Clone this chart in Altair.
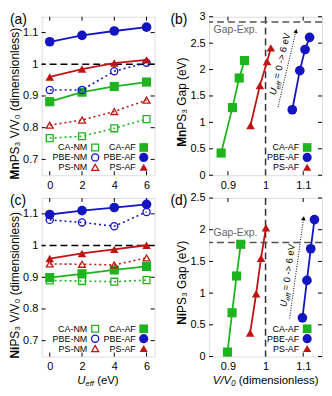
import math
import altair as alt
import pandas as pd

# ---------------- data ----------------
U = [0, 2, 4, 6]

# (a) MnPS3 V/V0
mn_ca_nm = [0.767, 0.773, 0.798, 0.827]
mn_ca_af = [0.882, 0.912, 0.930, 0.944]
mn_pbe_nm = [0.919, 0.919, 0.978, 1.005]
mn_pbe_af = [1.071, 1.091, 1.105, 1.117]
mn_ps_nm = [0.808, 0.824, 0.851, 0.887]
mn_ps_af = [0.960, 0.985, 1.004, 1.014]
# (b) MnPS3 gap (eV), AF
mn_ca_gap = [0.42, 1.28, 1.84, 2.17]
mn_pbe_gap = [1.24, 1.98, 2.38, 2.61]
mn_ps_gap = [0.94, 1.70, 2.15, 2.41]
mn_gap_exp = 2.9

# (c) NiPS3 V/V0
ni_ca_nm = [0.890, 0.888, 0.886, 0.891]
ni_ca_af = [0.899, 0.911, 0.923, 0.934]
ni_pbe_nm = [1.081, 1.073, 1.061, 1.106]
ni_pbe_af = [1.098, 1.110, 1.120, 1.130]
ni_ps_nm = [0.942, 0.941, 0.939, 0.961]
ni_ps_af = [0.959, 0.975, 0.988, 1.001]
# (d) NiPS3 gap (eV), AF
ni_ca_gap = [0.07, 0.69, 1.27, 1.77]
ni_pbe_gap = [0.61, 1.20, 1.70, 2.16]
ni_ps_gap = [0.37, 0.99, 1.55, 2.03]
ni_gap_exp = 1.8

methods = ["CA", "PBE", "PS"]
u_ticks = [0, 2, 4, 6]
v_ticks = [0.7, 0.8, 0.9, 1.0, 1.1]
vx_ticks = [0.9, 1.0, 1.1]
mn_gap_ticks = [0, 0.5, 1, 1.5, 2, 2.5, 3]
ni_gap_ticks = [0, 0.5, 1, 1.5, 2, 2.5]

# ---------------- style ----------------
W, H = 114, 160
FONT = "Liberation Sans"
COL = {"CA": "#1db41d", "PBE": "#1414c0", "PS": "#bf1414"}
SHAPE = {"CA": "square", "PBE": "circle", "PS": "triangle-up"}
SIZE_F = {"CA": 85, "PBE": 95, "PS": 75}
SIZE_O = {"CA": 48, "PBE": 52, "PS": 48}


def one():
    return pd.DataFrame({"k": [0]})


def _axis(ticks):
    return alt.Axis(values=ticks, format="~g", title=None, ticks=False,
                    domain=False, grid=False, labelFont=FONT,
                    labelFontSize=11, labelPadding=4, labelColor="black",
                    labelFlush=False)


def xenc(field, scale, ticks):
    return alt.X(field, type="quantitative", scale=scale, axis=_axis(ticks))


def yenc(field, scale, ticks):
    return alt.Y(field, type="quantitative", scale=scale, axis=_axis(ticks))


def inner_ticks(xs, ys, xt, yt):
    tx = pd.DataFrame({"x": xt})
    ty = pd.DataFrame({"y": yt})
    L = 4
    layers = []
    for a, b in [(H - L, H), (0, L)]:
        layers.append(alt.Chart(tx).mark_rule(color="black", strokeWidth=1).encode(
            x=xenc("x", xs, xt), y=alt.value(a), y2=alt.value(b)))
    for a, b in [(0, L), (W - L, W)]:
        layers.append(alt.Chart(ty).mark_rule(color="black", strokeWidth=1).encode(
            y=yenc("y", ys, yt), x=alt.value(a), x2=alt.value(b)))
    return layers


def text_px(txt, x, y, size=11, **kw):
    return alt.Chart(one()).mark_text(text=txt, font=FONT, fontSize=size, **kw).encode(
        x=alt.value(x), y=alt.value(y))


def legend(entries):
    layers = []
    rows = [H - 28, H - 18, H - 8]
    for label, m, filled, row, lx in entries:
        y = rows[row]
        layers.append(text_px(label, lx, y, size=9, align="right", baseline="middle",
                              color="black"))
        if filled:
            pm = alt.Chart(one()).mark_point(shape=SHAPE[m], filled=True, size=SIZE_F[m] * 0.9,
                                             color=COL[m], opacity=1)
        else:
            pm = alt.Chart(one()).mark_point(shape=SHAPE[m], filled=False, size=SIZE_O[m],
                                             color=COL[m], strokeWidth=1.3, opacity=1)
        layers.append(pm.encode(x=alt.value(lx + 8), y=alt.value(y)))
    return layers


def series_layers(xvals, yvals, m, filled, xs, ys, xt, yt):
    df = pd.DataFrame({"x": xvals, "y": yvals, "o": list(range(len(xvals)))})
    base = alt.Chart(df)
    if filled:
        line = base.mark_line(color=COL[m], strokeWidth=1.8)
        pts = base.mark_point(shape=SHAPE[m], filled=True, size=SIZE_F[m], color=COL[m], opacity=1)
    else:
        line = base.mark_line(color=COL[m], strokeWidth=1.6, strokeDash=[2, 3])
        pts = base.mark_point(shape=SHAPE[m], filled=False, size=SIZE_O[m], color=COL[m],
                              strokeWidth=1.3, opacity=1)
    enc = dict(x=xenc("x", xs, xt), y=yenc("y", ys, yt), order=alt.Order("o:Q"))
    return [line.encode(**enc), pts.encode(x=xenc("x", xs, xt), y=yenc("y", ys, yt))]


def ytitle(bold, rest, anchor_off):
    y = H / 2 + anchor_off
    return [
        text_px(bold, -27, y, size=12, angle=270, align="right", baseline="middle",
                fontWeight="bold", color="black"),
        text_px(rest, -27, y, size=12, angle=270, align="left", baseline="middle",
                color="black"),
    ]


def volume_panel(tag, elem, data, xt):
    xs = alt.Scale(domain=[-0.5, 6.5], nice=False, zero=False)
    ys = alt.Scale(domain=[0.65, 1.15], nice=False, zero=False)
    layers = []
    layers += inner_ticks(xs, ys, u_ticks, v_ticks)
    layers.append(alt.Chart(pd.DataFrame({"y": [1.0]})).mark_rule(
        color="black", strokeWidth=1.5, strokeDash=[7, 4]).encode(y=yenc("y", ys, v_ticks)))
    for m in methods:
        nm, af = data[m]
        layers += series_layers(U, nm, m, False, xs, ys, u_ticks, v_ticks)
        layers += series_layers(U, af, m, True, xs, ys, u_ticks, v_ticks)
    ent = []
    for i, m in enumerate(methods):
        ent.append((m + "-NM", m, False, i, 46))
        ent.append((m + "-AF", m, True, i, 95))
    layers += legend(ent)
    layers.append(text_px(tag, -32, -4, size=14, align="left", baseline="top", color="black"))
    off = (59 if elem == "Mn" else 62) + 8
    layers += ytitle(elem, "PS\u2083 V/V\u2080 (dimensionless)", off)
    if xt:
        xc = W / 2 - 21
        layers.append(text_px("U", xc, H + 25, size=11.5, align="left", baseline="middle",
                              fontStyle="italic", color="black"))
        layers.append(text_px("eff", xc + 8.3, H + 28, size=7.5, align="left", baseline="middle",
                              fontStyle="italic", color="black"))
        layers.append(text_px("(eV)", xc + 20, H + 25, size=11.5, align="left",
                              baseline="middle", color="black"))
    return alt.layer(*layers).properties(width=W, height=H)


def gap_panel(tag, elem, vols, gaps, ydom, yt, gexp, gtext_y, arrow, atext, xt):
    xs = alt.Scale(domain=[0.85, 1.15], nice=False, zero=False)
    ys = alt.Scale(domain=ydom, nice=False, zero=False)
    layers = []
    layers += inner_ticks(xs, ys, vx_ticks, yt)
    layers.append(alt.Chart(pd.DataFrame({"x": [1.0]})).mark_rule(
        color="#333333", strokeWidth=1.5, strokeDash=[7, 4]).encode(x=xenc("x", xs, vx_ticks)))
    layers.append(alt.Chart(pd.DataFrame({"y": [gexp]})).mark_rule(
        color="#555555", strokeWidth=1.5, strokeDash=[7, 4]).encode(y=yenc("y", ys, yt)))
    layers.append(alt.Chart(pd.DataFrame({"x": [0.862], "y": [gtext_y]})).mark_text(
        text="Gap-Exp.", font=FONT, fontSize=10.5, color="#666666", align="left",
        baseline="middle").encode(x=xenc("x", xs, vx_ticks), y=yenc("y", ys, yt)))
    for m in ["CA", "PS", "PBE"]:
        layers += series_layers(vols[m], gaps[m], m, True, xs, ys, vx_ticks, yt)
    # arrow U_eff = 0 -> 6 eV
    (x1, y1), (x2, y2) = arrow
    adf = pd.DataFrame({"x": [x1], "y": [y1], "x2": [x2], "y2": [y2]})
    layers.append(alt.Chart(adf).mark_rule(color="black", strokeWidth=1,
                                           strokeDash=[1, 1.5]).encode(
        x=xenc("x", xs, vx_ticks), y=yenc("y", ys, yt), x2="x2:Q", y2="y2:Q"))
    dxp = (x2 - x1) / 0.3 * W
    dyp = (y2 - y1) / (ydom[1] - ydom[0]) * H
    ang = math.degrees(math.atan2(dxp, dyp))
    layers.append(alt.Chart(pd.DataFrame({"x": [x2], "y": [y2]})).mark_point(
        shape="triangle-up", filled=True, size=22, color="black", opacity=1,
        angle=ang).encode(x=xenc("x", xs, vx_ticks), y=yenc("y", ys, yt)))
    tdf = pd.DataFrame({"x": [atext[0]], "y": [atext[1]]})
    tang = 270 + ang
    for s, dx, dy, fs, sty in [("U", -32, -3, 9.5, "italic"), ("eff", -25.2, -1, 7, "italic"),
                               ("= 0 -> 6 eV", -15, -3, 9.5, "normal")]:
        layers.append(alt.Chart(tdf).mark_text(
            text=s, font=FONT, fontSize=fs, fontStyle=sty, angle=tang, align="left",
            baseline="bottom", dx=dx, dy=dy, color="black").encode(
            x=xenc("x", xs, vx_ticks), y=yenc("y", ys, yt)))
    ent = [("CA-AF", "CA", True, 0, W - 23), ("PBE-AF", "PBE", True, 1, W - 23),
           ("PS-AF", "PS", True, 2, W - 23)]
    layers += legend(ent)
    layers.append(text_px(tag, -39, -4, size=14, align="left", baseline="top", color="black"))
    off = (28 if elem == "Mn" else 30) + 6
    layers += ytitle(elem, "PS\u2083 Gap (eV)", off)
    if xt:
        xc = W / 2 - 30
        layers.append(text_px("V/V\u2080", xc, H + 25, size=11.5, align="right",
                              baseline="middle", fontStyle="italic", color="black"))
        layers.append(text_px("(dimensionless)", xc + 3, H + 25, size=11.5, align="left",
                              baseline="middle", color="black"))
    return alt.layer(*layers).properties(width=W, height=H)


pa = volume_panel("(a)", "Mn", {"CA": (mn_ca_nm, mn_ca_af), "PBE": (mn_pbe_nm, mn_pbe_af),
                                "PS": (mn_ps_nm, mn_ps_af)}, False)
pc = volume_panel("(c)", "Ni", {"CA": (ni_ca_nm, ni_ca_af), "PBE": (ni_pbe_nm, ni_pbe_af),
                                "PS": (ni_ps_nm, ni_ps_af)}, True)
pb = gap_panel("(b)", "Mn", {"CA": mn_ca_af, "PBE": mn_pbe_af, "PS": mn_ps_af},
               {"CA": mn_ca_gap, "PBE": mn_pbe_gap, "PS": mn_ps_gap},
               [0, 3], mn_gap_ticks, mn_gap_exp, 2.74,
               ((1.033, 1.29), (1.081, 2.73)), (1.059, 2.07), False)
pd_ = gap_panel("(d)", "Ni", {"CA": ni_ca_af, "PBE": ni_pbe_af, "PS": ni_ps_af},
                {"CA": ni_ca_gap, "PBE": ni_pbe_gap, "PS": ni_ps_gap},
                [0, 2.5], ni_gap_ticks, ni_gap_exp, 1.95,
                ((1.064, 0.60), (1.101, 2.18)), (1.0795, 1.26), True)

chart = alt.concat(pa, pb, pc, pd_, columns=2, spacing={"row": 23, "column": 55},
                   bounds="flush").properties(padding=0).configure_view(
    stroke="black", strokeWidth=1).configure(background="white")

chart.save("out.html", embed_options={"renderer": "svg", "actions": False})
